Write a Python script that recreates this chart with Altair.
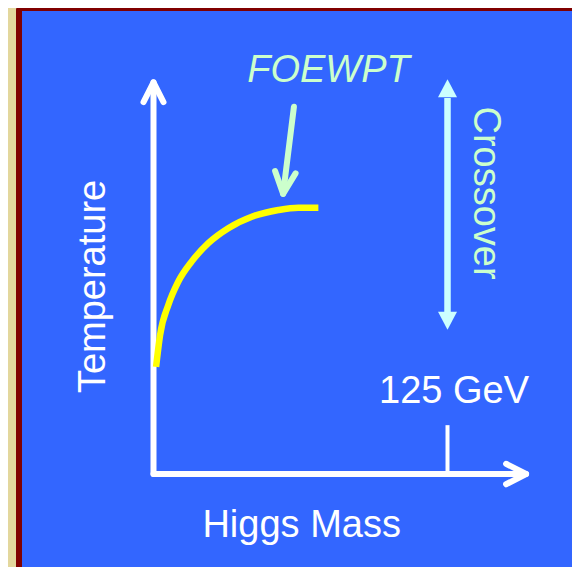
import altair as alt
import pandas as pd

# ---------------- data (schematic: x = Higgs mass [GeV], y = temperature [arb. units]) ----
curve_mass = [1.1, 2.8, 6.3, 10.5, 16.2, 23.3, 31.8, 41.8, 53.1, 61.6, 70.1]
curve_temp = [27.2, 35.3, 42.9, 48.8, 53.9, 58.6, 62.4, 65.3, 67.0, 67.6, 67.6]

tick_mass = 125
tick_temp = [0, 12.4]

# axis arrows
y_axis_mass = [0, 0]
y_axis_temp = [0, 99.4]
y_head_mass = [-4.25, 0, 4.25]
y_head_temp = [94.4, 99.4, 94.4]
x_axis_mass = [0, 158.4]
x_axis_temp = [0, 0]
x_head_mass = [149.9, 158.4, 149.9]
x_head_temp = [2.6, 0, -2.6]

# FOEWPT arrow
foewpt_shaft_mass = [59.7, 55.1]
foewpt_shaft_temp = [93.2, 71.1]
foewpt_head_mass = [51.7, 55.1, 60.4]
foewpt_head_temp = [76.9, 71.1, 76.3]

# crossover double arrow (at 125 GeV)
crossover_mass = 125
crossover_shaft_temp = [95.4, 41.1]
crossover_head_temp = [97.9, 38.9]

# labels
label_text = ["FOEWPT", "Crossover", "Temperature", "Higgs Mass", "125 GeV"]
label_mass = [74.4, 136.3, -20.6, 63.0, 127.8]
label_temp = [99.6, 71.3, 47.6, -15.9, 17.9]

# ---------------- styles ----------------
BEIGE = "#e3d79d"
BLUE = "#3366ff"
DARKRED = "#800000"
WHITE = "#ffffff"
YELLOW = "#ffff00"
LGREEN = "#ccffcc"
LCYAN = "#ccffff"
FONT = "Liberation Sans"

W, H = 564, 559
x_scale = alt.Scale(domain=[-61.86, 177.93], nice=False, zero=False)
y_scale = alt.Scale(domain=[-23.60, 118.27], nice=False, zero=False)


def path_df(parts):
    rows = []
    for name, ms, ts in parts:
        for i, (m, t) in enumerate(zip(ms, ts)):
            rows.append({"m": m, "T": t, "part": name, "ord": i})
    return pd.DataFrame(rows)


X = lambda: alt.X("m:Q", scale=x_scale, axis=None)
Y = lambda: alt.Y("T:Q", scale=y_scale, axis=None)

panel = alt.Chart(pd.DataFrame({"a": [0]})).mark_rect(
    fill=BLUE, stroke=DARKRED, strokeWidth=6, cornerRadius=2
).encode(x=alt.value(11), x2=alt.value(640), y=alt.value(0), y2=alt.value(620))

axes_df = path_df([
    ("yaxis", y_axis_mass, y_axis_temp),
    ("yhead", y_head_mass, y_head_temp),
    ("xaxis", x_axis_mass, x_axis_temp),
    ("xhead", x_head_mass, x_head_temp),
])
axes = alt.Chart(axes_df).mark_line(
    color=WHITE, strokeWidth=6, strokeCap="round", strokeJoin="round"
).encode(x=X(), y=Y(), detail="part:N", order="ord:Q")

tick = alt.Chart(pd.DataFrame({"m": [tick_mass], "T": [tick_temp[0]], "T2": [tick_temp[1]]})).mark_rule(
    color=WHITE, strokeWidth=4
).encode(x=X(), y=Y(), y2="T2:Q")

curve = alt.Chart(pd.DataFrame({"m": curve_mass, "T": curve_temp})).mark_line(
    color=YELLOW, strokeWidth=6.5, interpolate="monotone", strokeCap="butt"
).encode(x=X(), y=Y(), order="m:Q")

foe_df = path_df([
    ("shaft", foewpt_shaft_mass, foewpt_shaft_temp),
    ("head", foewpt_head_mass, foewpt_head_temp),
])
foe_arrow = alt.Chart(foe_df).mark_line(
    color=LGREEN, strokeWidth=6, strokeCap="round", strokeJoin="round"
).encode(x=X(), y=Y(), detail="part:N", order="ord:Q")

cross_shaft = alt.Chart(pd.DataFrame({
    "m": [crossover_mass], "T": [crossover_shaft_temp[0]], "T2": [crossover_shaft_temp[1]]
})).mark_rule(color=LCYAN, strokeWidth=6.5).encode(x=X(), y=Y(), y2="T2:Q")

cross_up = alt.Chart(pd.DataFrame({"m": [crossover_mass], "T": [crossover_head_temp[0]]})).mark_point(
    shape="M-1,0.95L0,-0.95L1,0.95Z", size=361, filled=True, color=LCYAN, opacity=1, strokeWidth=0
).encode(x=X(), y=Y())
cross_down = alt.Chart(pd.DataFrame({"m": [crossover_mass], "T": [crossover_head_temp[1]]})).mark_point(
    shape="M-1,-0.95L0,0.95L1,-0.95Z", size=361, filled=True, color=LCYAN, opacity=1, strokeWidth=0
).encode(x=X(), y=Y())

lab = pd.DataFrame({"text": label_text, "m": label_mass, "T": label_temp})


def text_layer(name, **kw):
    return alt.Chart(lab).transform_filter(alt.datum.text == name).mark_text(
        font=FONT, fontSize=38, align="center", baseline="alphabetic", **kw
    ).encode(x=X(), y=Y(), text="text:N")


t_foe = text_layer("FOEWPT", color=LGREEN, fontStyle="italic")
t_cross = text_layer("Crossover", color=LGREEN, angle=90)
t_temp = text_layer("Temperature", color=WHITE, angle=270)
t_mass = text_layer("Higgs Mass", color=WHITE)
t_125 = text_layer("125 GeV", color=WHITE)

chart = alt.layer(
    panel, axes, tick, curve, foe_arrow, cross_shaft, cross_up, cross_down,
    t_foe, t_cross, t_temp, t_mass, t_125
).properties(
    width=W, height=H, background=BEIGE, padding=0,
    autosize=alt.AutoSizeParams(type="none")
).configure_view(strokeWidth=0)

chart.save("out.html", embed_options={"renderer": "svg", "actions": False})
